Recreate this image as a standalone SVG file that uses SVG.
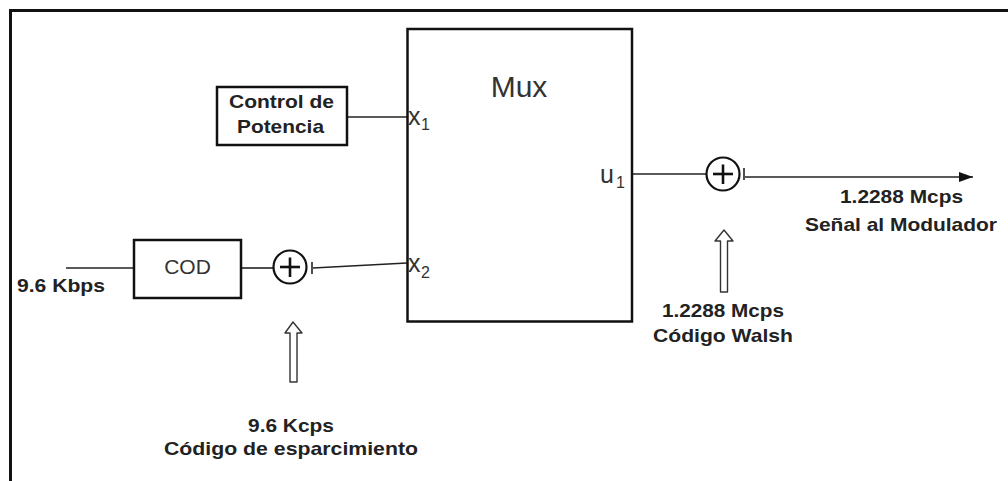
<svg xmlns="http://www.w3.org/2000/svg" width="1008" height="481" viewBox="0 0 1008 481">
<defs>
<marker id="ah" viewBox="0 0 14 10" refX="14" refY="5" markerWidth="14" markerHeight="10" markerUnits="userSpaceOnUse" orient="auto">
<path d="M0,0 L14,5 L0,10 Z" fill="#111"/>
</marker>
</defs>
<style>
.frame{fill:none;stroke:#111;stroke-width:3}
.box{fill:#fff;stroke:#111;stroke-width:2.5}
.ln{fill:none;stroke:#222;stroke-width:1.6}
.xor{fill:#fff;stroke:#111;stroke-width:2.2}
.plus{stroke:#111;stroke-width:2.6}
.hol{fill:#fff;stroke:#333;stroke-width:1.4;stroke-linejoin:round}
.b{font-family:"Liberation Sans",Arial,sans-serif;font-weight:bold;font-size:19px;fill:#222}
.r{font-family:"Liberation Sans",Arial,sans-serif;fill:#333}
</style>
<rect width="1008" height="481" fill="#fff"/>
<path class="frame" d="M10.5,481 V10.5 H1008"/>

<g id="connectors">
<line class="ln" x1="347" y1="117" x2="407" y2="117"/>
<line class="ln" x1="66" y1="268" x2="134" y2="268"/>
<line class="ln" x1="241" y1="268" x2="273" y2="268"/>
<line class="ln" x1="313" y1="268" x2="407" y2="263"/>
<line class="ln" x1="632" y1="174" x2="706" y2="174"/>
<line class="ln" x1="745" y1="177" x2="973" y2="177" marker-end="url(#ah)"/>
</g>

<g id="mux">
<rect class="box" x="407.5" y="29" width="224.5" height="292.5"/>
<text class="r" x="519" y="97" font-size="30" text-anchor="middle">Mux</text>
<text class="r" x="408" y="125" font-size="25">x</text>
<text class="r" x="421" y="130" font-size="16">1</text>
<text class="r" x="408" y="272" font-size="25">x</text>
<text class="r" x="421" y="278" font-size="16">2</text>
<text class="r" x="600" y="183" font-size="25">u</text>
<text class="r" x="616" y="188" font-size="16">1</text>
</g>

<g id="control">
<rect class="box" x="217" y="87" width="130" height="58"/>
<text class="b" x="229" y="108" textLength="105" lengthAdjust="spacingAndGlyphs">Control de</text>
<text class="b" x="237" y="133" textLength="87" lengthAdjust="spacingAndGlyphs">Potencia</text>
</g>

<g id="cod">
<rect class="box" x="134" y="240" width="107" height="58"/>
<text class="r" x="187.5" y="274" font-size="21" text-anchor="middle">COD</text>
</g>

<g id="input">
<text class="b" x="17" y="292" textLength="88" lengthAdjust="spacingAndGlyphs">9.6 Kbps</text>
</g>

<g id="xor1">
<circle class="xor" cx="290" cy="267" r="16.5"/>
<line class="plus" x1="280" y1="267" x2="300" y2="267"/>
<line class="plus" x1="290" y1="257.5" x2="290" y2="277"/>
<line class="ln" x1="312" y1="262" x2="312" y2="274"/>
</g>

<g id="xor2">
<circle class="xor" cx="723" cy="174" r="16.5"/>
<line class="plus" x1="713" y1="174" x2="733" y2="174"/>
<line class="plus" x1="723" y1="164.5" x2="723" y2="184"/>
<line class="ln" x1="744" y1="168" x2="744" y2="180"/>
</g>

<g id="spread">
<path class="hol" d="M293,322 L302,333 L297,333 L297,382 L290,382 L290,333 L285,333 Z"/>
<text class="b" x="248" y="432" textLength="86" lengthAdjust="spacingAndGlyphs">9.6 Kcps</text>
<text class="b" x="164" y="455" textLength="254" lengthAdjust="spacingAndGlyphs">Código de esparcimiento</text>
</g>

<g id="walsh">
<path class="hol" d="M724,230 L733,241 L727.5,241 L727.5,292 L720.5,292 L720.5,241 L715,241 Z"/>
<text class="b" x="662" y="317" textLength="122" lengthAdjust="spacingAndGlyphs">1.2288 Mcps</text>
<text class="b" x="653" y="342" textLength="140" lengthAdjust="spacingAndGlyphs">Código Walsh</text>
</g>

<g id="output">
<text class="b" x="840" y="203" textLength="123" lengthAdjust="spacingAndGlyphs">1.2288 Mcps</text>
<text class="b" x="805" y="231" textLength="192" lengthAdjust="spacingAndGlyphs">Señal al Modulador</text>
</g>
</svg>
